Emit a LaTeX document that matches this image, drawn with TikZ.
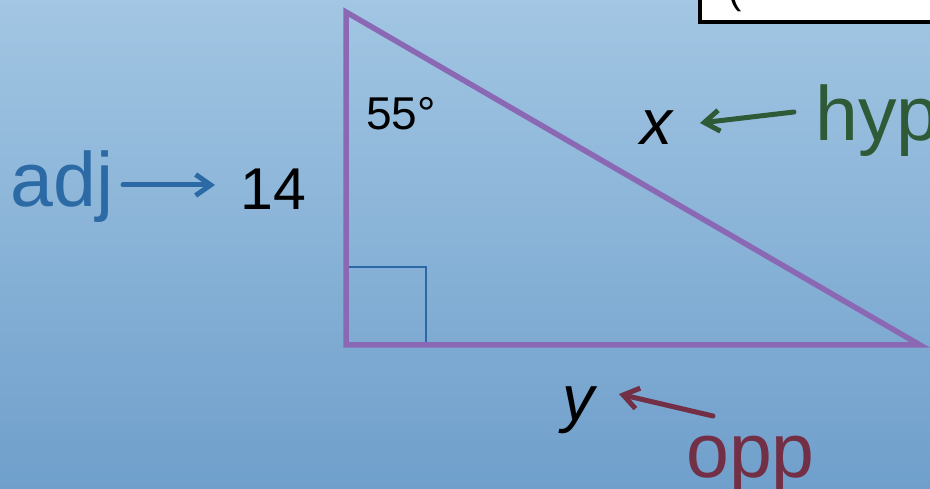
\documentclass[tikz,border=0pt]{standalone}
\usepackage{fontspec}
\setmainfont{Liberation Sans}
\usetikzlibrary{arrows.meta}
\definecolor{bgtop}{HTML}{A2C6E3}
\definecolor{bgbot}{HTML}{6F9FCB}
\definecolor{tri}{HTML}{8B68B4}
\definecolor{rightbox}{HTML}{2D68A6}
\definecolor{adjblue}{HTML}{2C6AA5}
\definecolor{hypgreen}{HTML}{2F5A38}
\definecolor{oppred}{HTML}{722F45}
\tikzset{
  >={Straight Barb[length=15pt,width=21pt]},
  side/.style={draw=tri,line width=5.5pt,line join=miter},
  big/.style={inner sep=0pt,font=\fontsize{77}{86}\selectfont},
  num/.style={inner sep=0pt,font=\fontsize{59}{66}\selectfont},
  pointer/.style={->,line width=5pt,line cap=round}
}
\begin{document}
\begin{tikzpicture}[x=1pt,y=-1pt]
  \shade[top color=bgtop,bottom color=bgbot] (0,0) rectangle (930,489);
  \useasboundingbox (0,0) rectangle (930,489);
  % triangle
  \coordinate (top) at (346,12);
  \coordinate (corner) at (346,345);
  \coordinate (far) at (920,345);
  \draw[rightbox,line width=2.5pt] (346,267) -| (426,345);
  \draw[side] (top) -- (corner) -- (far) -- cycle;
  % labels
  \node[num,font=\fontsize{46}{52}\selectfont,anchor=base] (angle) at (401,130) {55°};
  \node[big,font=\fontsize{64}{70}\selectfont\itshape,anchor=base] (x) at (656,145) {x};
  \node[big,text=hypgreen,anchor=base west] (hyp) at (815,141) {hyp};
  \node[big,text=adjblue,anchor=base] (adj) at (62,207) {adj};
  \node[num,anchor=base west] (len) at (240,210) {14};
  \node[big,font=\fontsize{64}{70}\selectfont\itshape,anchor=base] (y) at (578,420) {y};
  \node[big,text=oppred,anchor=base west] (opp) at (686,477) {opp};
  % pointers
  \coordinate (hyptail) at (794,112);
  \coordinate (hyptip) at (700,123);
  \coordinate (adjtail) at (123,185);
  \coordinate (adjtip) at (215,185);
  \coordinate (opptail) at (713,416);
  \coordinate (opptip) at (619,394);
  \draw[pointer,hypgreen] (hyptail) -- (hyptip);
  \draw[pointer,adjblue] (adjtail) -- (adjtip);
  \draw[pointer,oppred] (opptail) -- (opptip);
  % box at top right
  \begin{scope}
    \clip (0,0) rectangle (930,489);
    \draw[fill=white,line width=4pt] (700,-20) rectangle (950,22);
    \node[inner sep=0pt,font=\fontsize{40}{44}\selectfont,anchor=base west] (paren) at (728,4) {(};
  \end{scope}
\end{tikzpicture}
\end{document}
